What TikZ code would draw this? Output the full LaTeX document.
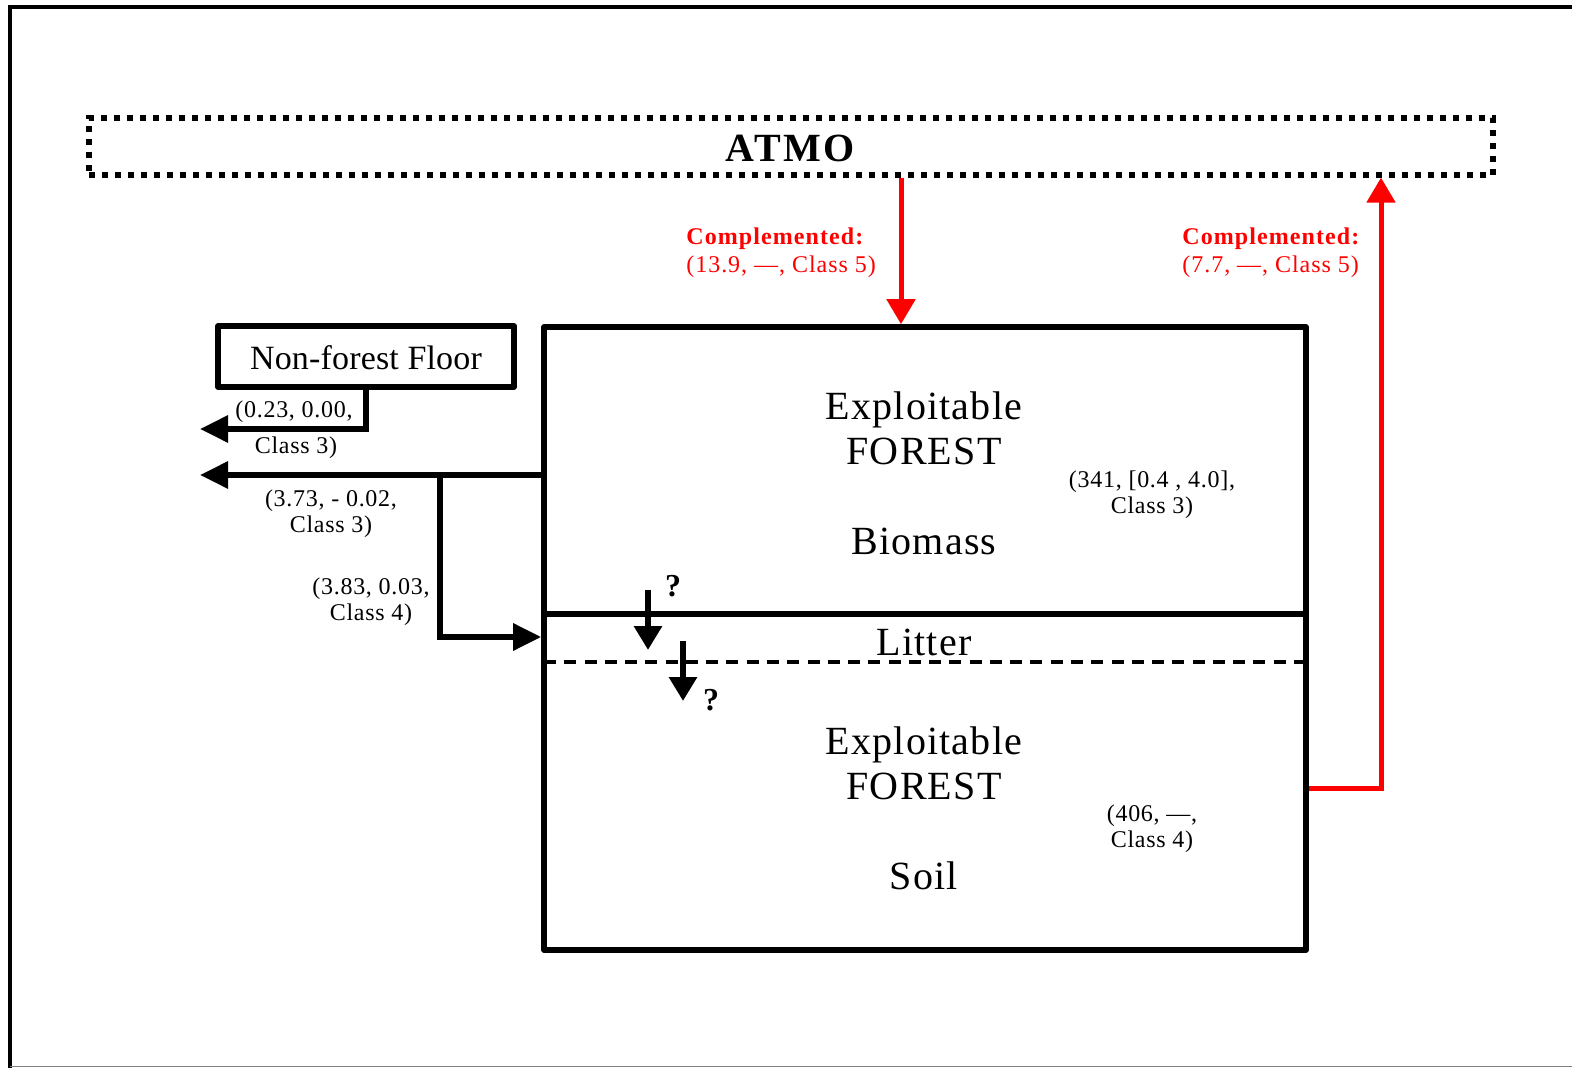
\documentclass[tikz,border=0pt]{standalone}
\usepackage{fontspec}
\setmainfont{Liberation Serif}
\newfontfamily\bigfont[LetterSpace=3]{Liberation Serif}
\newfontfamily\nffont[LetterSpace=0.5]{Liberation Serif}
\newfontfamily\smallfont[LetterSpace=3]{Liberation Serif}
\newfontfamily\redbold[LetterSpace=4.5]{Liberation Serif}
\newfontfamily\redreg[LetterSpace=4]{Liberation Serif}
\newfontfamily\atmofont[LetterSpace=6]{Liberation Serif}
\usetikzlibrary{arrows.meta,fit,calc}
\definecolor{flowred}{RGB}{255,0,0}
\tikzset{
  boxline/.style={draw, line width=2.8pt, line join=round, inner sep=0pt},
  flow/.style={line width=3pt, -{Triangle[length=14pt,width=13pt]}},
  litterflow/.style={line width=3pt, -{Triangle[length=12pt,width=13.5pt]}},
  redflow/.style={flowred, line width=2.5pt, -{Triangle[length=12.5pt,width=14pt]}},
  bigtext/.style={font=\bigfont\fontsize{20pt}{22.5pt}\selectfont, align=center, inner sep=0pt},
  smalltext/.style={font=\smallfont\fontsize{12pt}{13pt}\selectfont, align=center, inner sep=0pt},
  redtext/.style={text=flowred, align=left, inner sep=0pt, anchor=west, font=\redreg\fontsize{12pt}{14pt}\selectfont},
  qmark/.style={font=\bfseries\fontsize{16pt}{16pt}\selectfont, inner sep=0pt}
}
\begin{document}
\begin{tikzpicture}[x=0.5pt,y=-0.5pt]
\useasboundingbox (0,0) rectangle (1572,1068);
% frame
\draw[line width=2pt] (9.5,1068) -- (9.5,7) -- (1572,7);
\draw[gray, line width=0.7pt] (9.5,1066.5) -- (1572,1066.5);

% ATMO
\node[fit={(89,118) (1493,175)}, draw, line width=2.6pt, dash pattern=on 3pt off 3.5pt, inner sep=0pt] (atmo) {};
\node[font=\atmofont\bfseries\fontsize{20pt}{20pt}\selectfont, inner sep=0pt] (atmotext) at (790,148) {ATMO};

% main boxes
\node[fit={(544,327) (1306,614)}, boxline] (bio) {};
\node[fit={(544,614) (1306,950)}, boxline] (soil) {};
\draw[line width=1.8pt, dash pattern=on 6pt off 4.135pt] (544,662) -- (1306,662);

% non-forest floor
\node[fit={(218,326) (514,387)}, boxline, line width=2.6pt] (nff) {};
\node[font=\nffont\fontsize{17pt}{17pt}\selectfont, inner sep=0pt] (nfftext) at (366,358) {Non-forest Floor};

% texts in boxes
\node[bigtext] (biotext) at (924,473) {Exploitable\\FOREST\\[22.5pt]Biomass};
\node[bigtext] (soiltext) at (924,808) {Exploitable\\FOREST\\[22.5pt]Soil};
\node[bigtext] (litter) at (924,642) {Litter};
\node[smalltext] (biolab) at (1152,495) {(341, [0.4 , 4.0],\\Class 3)};
\node[smalltext] (soillab) at (1152,829) {(406, —,\\Class 4)};

% red flows
\coordinate (r1) at (901,0);
\draw[redflow] (r1 |- atmo.south) -- (r1 |- bio.north);
\coordinate (r2) at (1381,788);
\draw[redflow] (soil.east |- r2) -- (r2) -- (r2 |- atmo.south);
\node[redtext] (lab1) at (686,253) {{\redbold\bfseries Complemented:}\\(13.9, —, Class 5)};
\node[redtext] (lab2) at (1182,253) {{\redbold\bfseries Complemented:}\\(7.7, —, Class 5)};

% left flows
\coordinate (c1) at (366,429);
\coordinate (out1) at (200,429);
\draw[flow, line join=miter] (c1 |- nff.south) -- (c1) -- (out1);
\node[smalltext] (l1a) at (294,412) {(0.23, 0.00,};
\node[smalltext] (l1b) at (296,448) {Class 3)};

\coordinate (out2) at (200,475);
\draw[flow] (out2 -| bio.west) -- (out2);
\node[smalltext] (l2) at (331,514) {(3.73, - 0.02,\\Class 3)};

\coordinate (br) at (440,475);
\coordinate (in3) at (440,637);
\draw[flow, line join=miter] (br) -- (in3) -- (in3 -| soil.west);
\node[smalltext] (l3) at (371,602) {(3.83, 0.03,\\Class 4)};

% litter flows
\coordinate (a1s) at (648,590);
\coordinate (a1e) at (648,650);
\draw[litterflow] (a1s) -- (a1e);
\node[qmark] (q1) at (673,586) {?};
\coordinate (a2s) at (683,641);
\coordinate (a2e) at (683,701);
\draw[litterflow] (a2s) -- (a2e);
\node[qmark] (q2) at (711,700) {?};
\end{tikzpicture}
\end{document}
